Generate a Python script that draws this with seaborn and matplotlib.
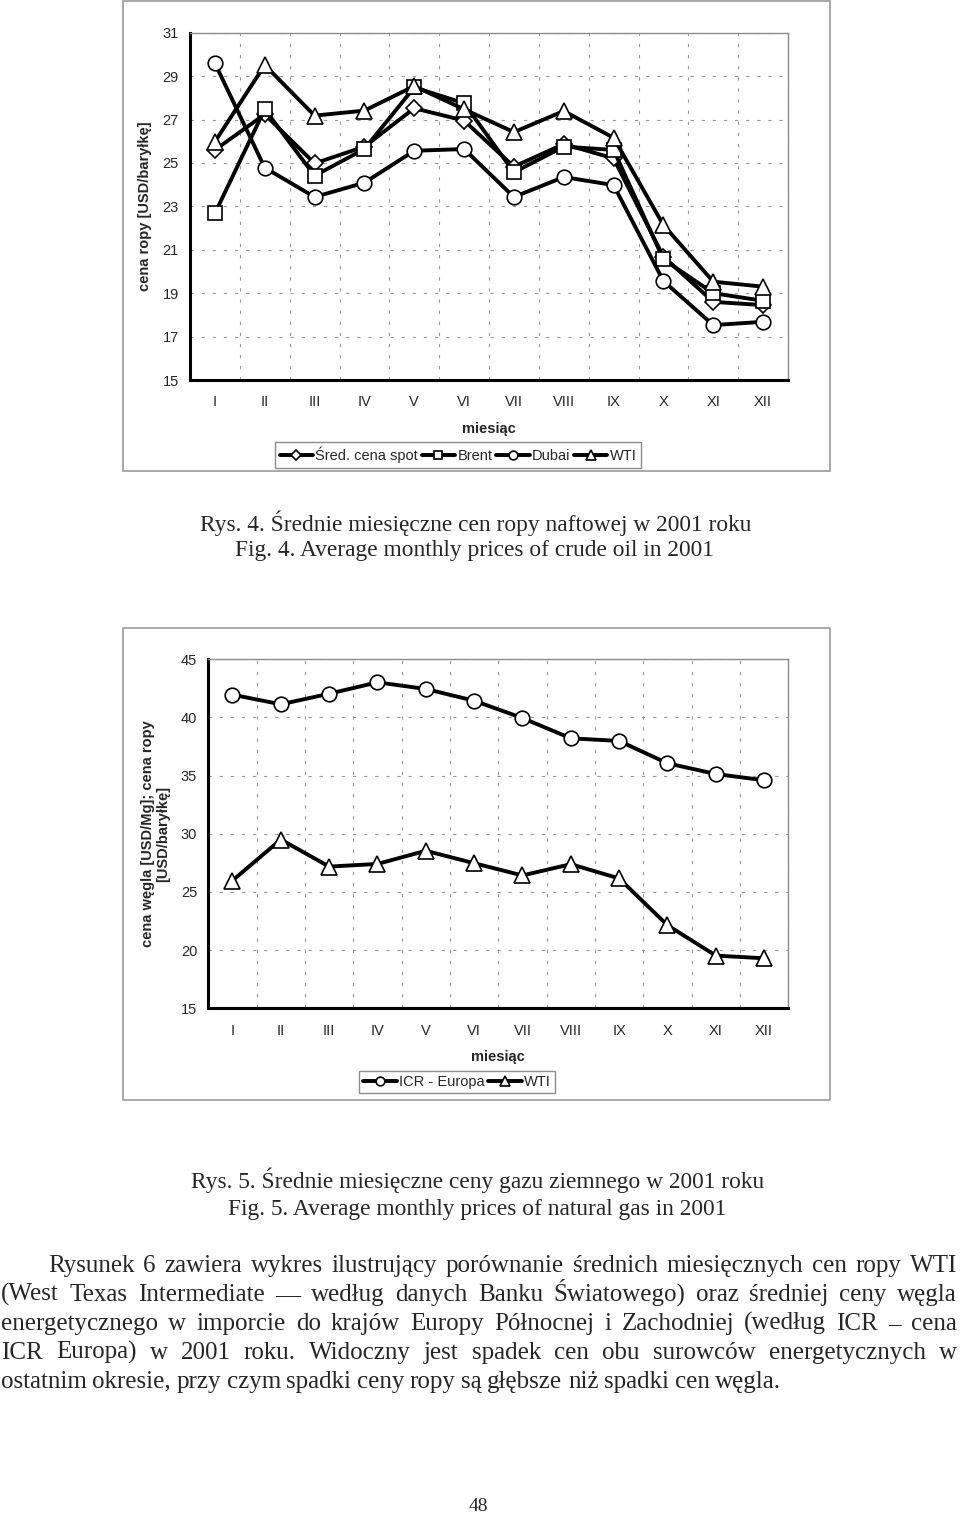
import numpy as np
import pandas as pd
import matplotlib
matplotlib.use("Agg")
import matplotlib.pyplot as plt
from matplotlib.patches import Rectangle
import seaborn as sns

# data
months = ['I', 'II', 'III', 'IV', 'V', 'VI', 'VII', 'VIII', 'IX', 'X', 'XI', 'XII']
spot = [25.6, 27.24, 24.98, 25.75, 27.52, 26.95, 24.83, 25.87, 25.21, 20.68, 18.6, 18.45]
brent = [22.68, 27.47, 24.41, 25.64, 28.48, 27.75, 24.57, 25.75, 25.6, 20.56, 19.0, 18.65]
dubai = [29.59, 24.78, 23.43, 24.09, 25.56, 25.64, 23.43, 24.35, 23.98, 19.56, 17.53, 17.68]
wti = [25.98, 29.51, 27.18, 27.41, 28.54, 27.47, 26.42, 27.39, 26.16, 22.14, 19.53, 19.3]
icr = [41.96, 41.13, 42.04, 43.02, 42.45, 41.44, 39.95, 38.21, 37.98, 36.06, 35.14, 34.6]

oil = pd.DataFrame({'m': range(12), 'Śred. cena spot': spot, 'Brent': brent,
                    'Dubai': dubai, 'WTI': wti})
coal = pd.DataFrame({'m': range(12), 'ICR - Europa': icr, 'WTI': wti})

sns.set_theme(style='white')
plt.rcParams['font.family'] = ['Liberation Sans', 'DejaVu Sans']

W, H = 960, 1515
fig = plt.figure(figsize=(W / 100, H / 100), dpi=100)
fig.patch.set_facecolor('white')


def px_rect(l, t, r, b):
    return [l / W, 1 - b / H, (r - l) / W, (b - t) / H]


def style_axes(ax, yticks, ylim, ylabel):
    ax.set_xlim(-0.5, 11.5)
    ax.set_ylim(*ylim)
    ax.set_yticks(yticks)
    ax.set_xticks(np.arange(-0.5, 12, 1))
    ax.set_xticklabels([])
    ax.set_xticks(range(12), minor=True)
    ax.set_xticklabels(months, minor=True)
    ax.tick_params(axis='x', which='minor', length=0, pad=11, labelsize=10.5)
    ax.tick_params(axis='x', which='major', length=5, width=2, direction='out', color='black')
    ax.tick_params(axis='y', length=5, width=2, direction='out', color='black', labelsize=10.5, pad=3)
    for s in ['left', 'bottom']:
        ax.spines[s].set_color('black')
        ax.spines[s].set_linewidth(2.2)
    for s in ['top', 'right']:
        ax.spines[s].set_color('#8c8c8c')
        ax.spines[s].set_linewidth(1)
    ax.grid(True, which='major', color='#999999', linestyle=(0, (3, 7)), linewidth=0.8)
    ax.set_xlabel('miesiąc', fontsize=10.5, fontweight='bold', labelpad=9)
    ax.set_ylabel(ylabel, fontsize=10.5, fontweight='bold', labelpad=8, linespacing=1.1)


markers = {'Śred. cena spot': ('D', 8.5), 'Brent': ('s', 10), 'Dubai': ('o', 10.5),
           'ICR - Europa': ('o', 10.5), 'WTI': ('^', 11)}


def draw(ax, df, names):
    for n in names:
        mk, ms = markers[n]
        sns.lineplot(data=df, x='m', y=n, ax=ax, color='black', lw=2.8,
                     marker=mk, markersize=ms, markerfacecolor='white',
                     markeredgecolor='black', markeredgewidth=1.2, label=n)


def legend(ax, cx, cy, ncol):
    lg = ax.legend(loc='center', bbox_to_anchor=(cx / W, 1 - cy / H), bbox_transform=fig.transFigure,
                   ncol=ncol, fontsize=10.5, frameon=True, fancybox=False, edgecolor='#8c8c8c',
                   handlelength=2.3, handletextpad=0.15, columnspacing=0.25, markerscale=0.6,
                   borderpad=0.3, framealpha=1)
    lg.get_frame().set_linewidth(1)


# outer chart frames
for t, b in [(1, 471), (628, 1100)]:
    fig.patches.append(Rectangle((123 / W, 1 - b / H), 707 / W, (b - t) / H,
                                 transform=fig.transFigure, fill=False,
                                 edgecolor='#9a9a9a', lw=1.2))

ax1 = fig.add_axes(px_rect(190, 32.7, 788, 380))
draw(ax1, oil, ['Śred. cena spot', 'Brent', 'Dubai', 'WTI'])
style_axes(ax1, range(15, 32, 2), (15, 31), 'cena ropy [USD/baryłkę]')
legend(ax1, 458, 455, 4)

ax2 = fig.add_axes(px_rect(208.3, 659.3, 788.3, 1008.3))
draw(ax2, coal, ['ICR - Europa', 'WTI'])
style_axes(ax2, range(15, 46, 5), (15, 45), 'cena węgla [USD/Mg]; cena ropy\n[USD/baryłkę]')
legend(ax2, 457, 1082, 2)

serif = ['Liberation Serif', 'DejaVu Serif']
cap = dict(ha='center', va='baseline', fontsize=16.8, family=serif)
fig.text(476 / W, 1 - 531 / H, 'Rys. 4. Średnie miesięczne cen ropy naftowej w 2001 roku', **cap)
fig.text(474 / W, 1 - 556 / H, 'Fig. 4. Average monthly prices of crude oil in 2001', **cap)
fig.text(478 / W, 1 - 1188 / H, 'Rys. 5. Średnie miesięczne ceny gazu ziemnego w 2001 roku', **cap)
fig.text(477 / W, 1 - 1215 / H, 'Fig. 5. Average monthly prices of natural gas in 2001', **cap)

para = [
    'Rysunek 6 zawiera wykres ilustrujący porównanie średnich miesięcznych cen ropy WTI',
    '(West Texas Intermediate — według danych Banku Światowego) oraz średniej ceny węgla',
    'energetycznego w imporcie do krajów Europy Północnej i Zachodniej (według ICR – cena',
    'ICR Europa) w 2001 roku. Widoczny jest spadek cen obu surowców energetycznych w',
    'ostatnim okresie, przy czym spadki ceny ropy są głębsze niż spadki cen węgla.',
]
renderer = fig.canvas.get_renderer()
for i, line in enumerate(para):
    y = 1 - (1272 + i * 28.9) / H
    x0 = 48 if i == 0 else 1
    words = line.split(' ')
    texts = [fig.text(0, y, w, ha='left', va='baseline', fontsize=18, family=serif) for w in words]
    widths = [t.get_window_extent(renderer).width for t in texts]
    if i < len(para) - 1:
        gap = (957 - x0 - sum(widths)) / (len(words) - 1)
    else:
        gap = 5.5
    x = x0
    for t, w in zip(texts, widths):
        t.set_x(x / W)
        x += w + gap

fig.text(478 / W, 1 - 1511 / H, '48', ha='center', va='baseline', fontsize=14, family=serif)

fig.savefig('out.png', dpi=100)
